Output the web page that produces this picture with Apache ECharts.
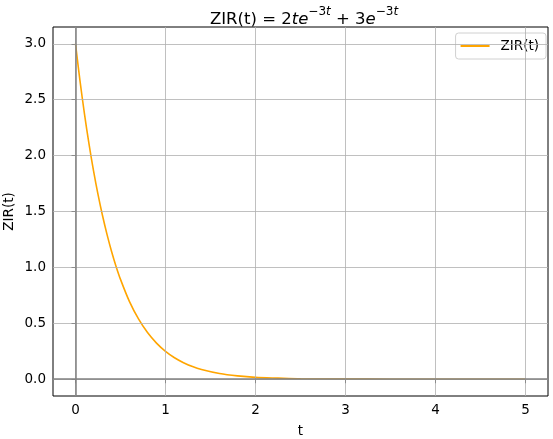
<!DOCTYPE html>
<html>
<head>
<meta charset="utf-8">
<script src="https://cdn.jsdelivr.net/npm/echarts@6/dist/echarts.min.js"></script>
<style>html,body{margin:0;padding:0;background:#fff}#c{width:553px;height:439px}</style>
</head>
<body>
<div id="c"></div>
<script>
// Values
const tValues = [0, 0.05, 0.1, 0.15, 0.2, 0.25, 0.3, 0.35, 0.4, 0.45, 0.5, 0.6, 0.7, 0.8, 0.9, 1.0, 1.1, 1.2, 1.3, 1.4, 1.6, 1.8, 2.0, 2.25, 2.5, 3.0, 3.5, 4.0, 4.5, 5.0];
const zirValues = [3.0, 2.668, 2.371, 2.104, 1.866, 1.653, 1.464, 1.295, 1.145, 1.011, 0.893, 0.694, 0.539, 0.417, 0.323, 0.249, 0.192, 0.148, 0.113, 0.087, 0.051, 0.030, 0.017, 0.010, 0.004, 0.001, 0.0003, 0.0, 0.0, 0.0];
const xTicks = [0, 1, 2, 3, 4, 5];
const yTicks = [0.0, 0.5, 1.0, 1.5, 2.0, 2.5, 3.0];
const seriesName = 'ZIR(t)';
const xName = 't';
const yName = 'ZIR(t)';

const FONT = 'DejaVu Sans';
const pts = tValues.map((t, i) => [t, zirValues[i]]);

const gridLines = [];
xTicks.forEach(v => gridLines.push({ xAxis: v }));
yTicks.forEach(v => gridLines.push({ yAxis: v }));

const base = { fontFamily: FONT, color: '#000', fontWeight: 'normal', lineHeight: 22 };
const chart = echarts.init(document.getElementById('c'), null, { renderer: 'canvas' });
chart.setOption({
  animation: false,
  backgroundColor: '#fff',
  title: {
    text: '{n|ZIR(t) = }{n|2}{i|te}{s|−3}{si|t}{n| + 3}{i|e}{s|−3}{si|t}',
    left: 299,
    textAlign: 'center',
    top: 1,
    textStyle: {
      fontWeight: 'normal',
      rich: {
        n: Object.assign({}, base, { fontSize: 16.5, verticalAlign: 'bottom' }),
        i: Object.assign({}, base, { fontSize: 16.5, fontStyle: 'italic', verticalAlign: 'bottom' }),
        s: Object.assign({}, base, { fontSize: 12, verticalAlign: 'top' }),
        si: Object.assign({}, base, { fontSize: 12, fontStyle: 'italic', verticalAlign: 'top' })
      }
    }
  },
  legend: {
    data: [seriesName],
    right: 7,
    top: 33,
    orient: 'vertical',
    itemWidth: 29,
    itemHeight: 2,
    itemGap: 5,
    padding: [6, 7, 6, 5],
    borderColor: '#d0d0d0',
    borderWidth: 1,
    borderRadius: 3,
    backgroundColor: 'rgba(255,255,255,0.8)',
    textStyle: { fontFamily: FONT, fontSize: 13.5, color: '#000', padding: [0, 0, 0, 6], lineHeight: 13 },
    icon: 'rect'
  },
  grid: {
    left: 53, right: 5, top: 27, bottom: 43,
    containLabel: false,
    outerBoundsMode: 'none',
    show: true, borderColor: '#000', borderWidth: 1, backgroundColor: 'transparent'
  },
  xAxis: {
    type: 'value',
    min: -0.25, max: 5.25,
    name: xName, nameLocation: 'middle', nameGap: 28, nameMoveOverlap: false,
    nameTextStyle: { fontFamily: FONT, fontSize: 13.5, color: '#000' },
    axisLine: { show: false },
    splitLine: { show: false },
    axisTick: { show: true, customValues: xTicks, length: 4, lineStyle: { color: '#000', width: 1 } },
    axisLabel: { customValues: xTicks, margin: 7, fontFamily: FONT, fontSize: 13.5, color: '#000', formatter: v => String(v) }
  },
  yAxis: {
    type: 'value',
    min: -0.15, max: 3.15,
    name: yName, nameLocation: 'middle', nameGap: 37, nameMoveOverlap: false,
    nameTextStyle: { fontFamily: FONT, fontSize: 13.5, color: '#000' },
    axisLine: { show: false },
    splitLine: { show: false },
    axisTick: { show: true, customValues: yTicks, length: 4, lineStyle: { color: '#000', width: 1 } },
    axisLabel: { customValues: yTicks, margin: 7, fontFamily: FONT, fontSize: 13.5, color: '#000', formatter: v => v.toFixed(1) }
  },
  series: [
    {
      name: '_grid',
      type: 'line',
      data: pts,
      symbol: 'none',
      lineStyle: { opacity: 0 },
      silent: true,
      z: 1,
      markLine: {
        silent: true,
        symbol: 'none',
        label: { show: false },
        lineStyle: { color: '#b0b0b0', width: 0.8, type: 'solid' },
        data: gridLines,
        animation: false
      }
    },
    {
      name: '_zero',
      type: 'line',
      data: pts,
      symbol: 'none',
      lineStyle: { opacity: 0 },
      silent: true,
      z: 2,
      markLine: {
        silent: true,
        symbol: 'none',
        label: { show: false },
        lineStyle: { color: '#808080', width: 1.5, type: 'solid' },
        data: [{ xAxis: 0 }, { yAxis: 0 }],
        animation: false
      }
    },
    {
      name: seriesName,
      type: 'line',
      data: pts,
      symbol: 'none',
      smooth: 0.3,
      color: '#ffa500',
      itemStyle: { color: '#ffa500' },
      lineStyle: { color: '#ffa500', width: 1.6 },
      z: 3
    }
  ]
});
</script>
</body>
</html>
